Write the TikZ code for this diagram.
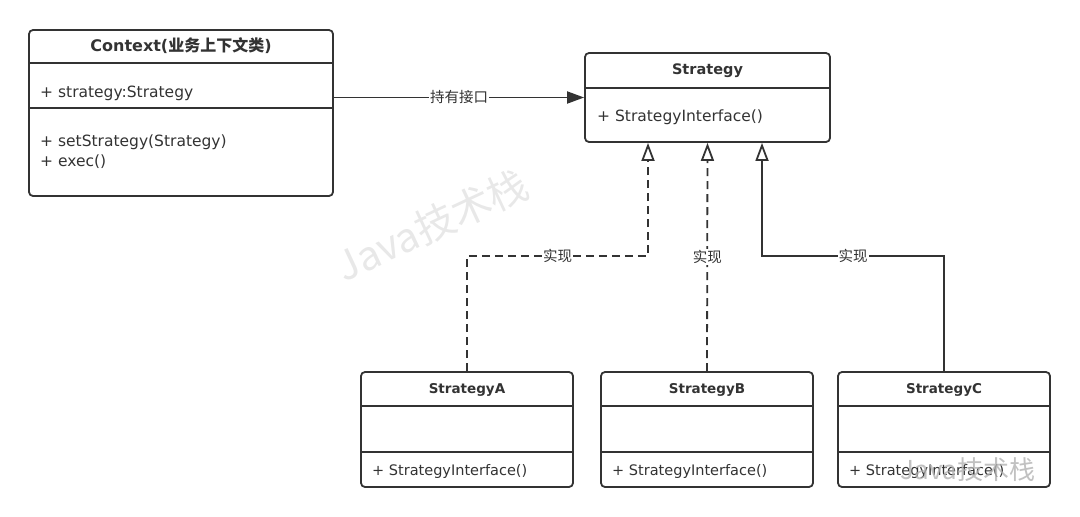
\documentclass[tikz,border=0pt]{standalone}
\usepackage{fontspec}
\setmainfont{DejaVu Sans}
\newfontfamily\cjk{Noto Sans CJK SC}
\usetikzlibrary{arrows.meta}

\definecolor{umlline}{HTML}{333333}
\definecolor{wmark}{HTML}{E8E8E8}

\tikzset{
  classbox/.style={draw=umlline, line width=1.8pt, rounded corners=4pt, fill=white, inner sep=0pt},
  title/.style={font=\fontsize{14.5}{18}\selectfont\bfseries, text=umlline},
  member/.style={font=\fontsize{15.5}{18}\selectfont, text=umlline, anchor=west, inner sep=0pt},
  subtitle/.style={font=\fontsize{13.5}{16}\selectfont\bfseries, text=umlline},
  submember/.style={font=\fontsize{14.5}{17}\selectfont, text=umlline, anchor=west, inner sep=0pt},
  sep/.style={draw=umlline, line width=1.8pt},
  lbl/.style={font=\cjk\fontsize{14.5}{16}\selectfont, text=umlline, fill=white, inner sep=1pt},
  holds/.style={draw=umlline, line width=1.8pt, -{Triangle[length=17pt, width=12pt]}},
  realize/.style={draw=umlline, line width=1.8pt, dash pattern=on 8pt off 5pt, -{Triangle[open, length=18pt, width=13pt, fill=white]}},
  extend/.style={draw=umlline, line width=1.8pt, -{Triangle[open, length=18pt, width=13pt, fill=white]}},
}

\begin{document}
\begin{tikzpicture}[x=1pt, y=-1pt]
\useasboundingbox (0,0) rectangle (1080,517);

% watermark
\node[text=wmark, font=\cjk\fontsize{40}{44}\selectfont, rotate=25] (wm) at (432,225) {Java技术栈};

% classes
\node[classbox, minimum width=304, minimum height=166] (ctx) at (181,113) {};
\node[classbox, minimum width=245, minimum height=89] (strat) at (707.5,97.5) {};
\node[classbox, minimum width=212, minimum height=115] (sA) at (467,429.5) {};
\node[classbox, minimum width=212, minimum height=115] (sB) at (707,429.5) {};
\node[classbox, minimum width=212, minimum height=115] (sC) at (944,429.5) {};

\draw[sep] (ctx.west |- 0,63) -- (ctx.east |- 0,63);
\draw[sep] (ctx.west |- 0,108) -- (ctx.east |- 0,108);
\draw[sep] (strat.west |- 0,88) -- (strat.east |- 0,88);
\foreach \s in {sA,sB,sC} {
  \draw[sep] (\s.west |- 0,406) -- (\s.east |- 0,406);
  \draw[sep] (\s.west |- 0,452) -- (\s.east |- 0,452);
}

\node[title, font=\fontsize{16}{19}\selectfont\bfseries] (ctxT) at (181,46) {Context({\cjk 业务上下文类})};
\node[member] (ctxF) at (40,93) {+ strategy:Strategy};
\node[member] (ctxM1) at (40,142) {+ setStrategy(Strategy)};
\node[member] (ctxM2) at (40,162) {+ exec()};

\node[title] (stratT) at (707.5,71) {Strategy};
\node[member] (stratM) at (597,117) {+ StrategyInterface()};

\node[subtitle] (sAT) at (467,390) {StrategyA};
\node[submember] (sAM) at (372,471) {+ StrategyInterface()};
\node[subtitle] (sBT) at (707,390) {StrategyB};
\node[submember] (sBM) at (612,471) {+ StrategyInterface()};
\node[subtitle] (sCT) at (944,390) {StrategyC};
\node[submember] (sCM) at (849,471) {+ StrategyInterface()};

% connectors
\coordinate (bendA) at (648,256);
\coordinate (bendC) at (762,256);

\draw[holds] (strat.west -| ctx.east) -- node[lbl] {持有接口} (strat.west);
\draw[realize] (sA.north) |- node[lbl, pos=0.75] {实现} (bendA) -- (bendA |- strat.south);
\draw[realize] (sB.north) -- node[lbl, pos=0.5] {实现} (strat.south);
\draw[extend] (sC.north) |- node[lbl, pos=0.75] {实现} (bendC) -- (bendC |- strat.south);

% corner watermark
\node[text=gray!60, font=\cjk\fontsize{26}{30}\selectfont, opacity=0.8] (wm2) at (968,470) {Java技术栈};
\end{tikzpicture}
\end{document}
